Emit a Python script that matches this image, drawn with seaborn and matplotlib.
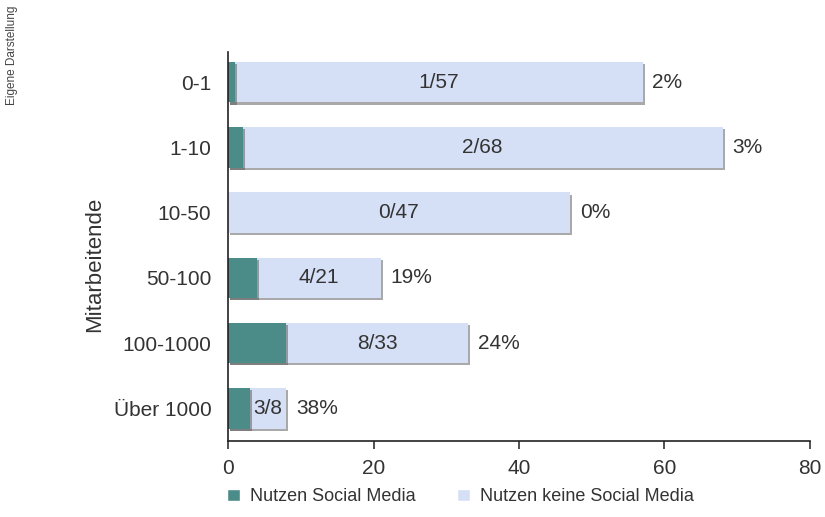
# Social media usage by company size - stacked horizontal bars

import numpy as np
import pandas as pd
import matplotlib.pyplot as plt
import matplotlib.patheffects as pe
from matplotlib.patches import Patch
import seaborn as sns

# Data
groups = ["0-1", "1-10", "10-50", "50-100", "100-1000", "Über 1000"]
total = [57, 68, 47, 21, 33, 8]
users = [1, 2, 0, 4, 8, 3]
x_ticks = [0, 20, 40, 60, 80]

df = pd.DataFrame({"Mitarbeitende": groups, "total": total, "users": users})

# Style
sns.set_theme(style="white")
plt.rcParams.update({
    'font.family': ['Liberation Sans', 'DejaVu Sans'],
    'text.color': '#333333',
    'axes.labelcolor': '#333333',
    'xtick.color': '#333333',
    'ytick.color': '#333333',
})

c_teal = "#4c8c88"
c_light = "#d5dff5"
c_text = "#333333"

fig = plt.figure(figsize=(8.25, 5.17), dpi=100)
fig.patch.set_facecolor("white")
ax = fig.add_axes([0.2764, 0.147, 0.7054, 0.752])

shadow = [pe.SimplePatchShadow(offset=(1.5, -1.5), shadow_rgbFace="#555555", alpha=0.5), pe.Normal()]

sns.barplot(data=df, x="total", y="Mitarbeitende", color=c_light, width=0.62,
            saturation=1, ax=ax, linewidth=0)
sns.barplot(data=df, x="users", y="Mitarbeitende", color=c_teal, width=0.62,
            saturation=1, ax=ax, linewidth=0)
for p in ax.patches:
    p.set_path_effects(shadow)

# Labels inside and beside the bars
for i, (t, u) in enumerate(zip(total, users)):
    ax.text((t + u) / 2, i, f"{u}/{t}", ha="center", va="center", fontsize=15, color=c_text)
    ax.annotate(f"{round(100 * u / t)}%", (t, i), xytext=(7, 0), textcoords="offset points",
                ha="left", va="center", fontsize=15, color=c_text)

ax.set_xlim(0, 80)
ax.set_ylim(5.5, -0.46)
ax.set_xticks(x_ticks)
ax.tick_params(axis="x", direction="out", length=6, width=1.1, color="#222222",
               labelsize=15, pad=7, bottom=True)
ax.tick_params(axis="y", length=0, labelsize=15, pad=12)
ax.set_xlabel("")
ax.set_ylabel("Mitarbeitende", fontsize=16, color=c_text)
ax.yaxis.set_label_coords(-0.212, 0.455)

sns.despine(ax=ax)
for s in ["left", "bottom"]:
    ax.spines[s].set_color("#222222")
    ax.spines[s].set_linewidth(1.2)

# Legend
handles = [Patch(facecolor=c_teal, label="Nutzen Social Media"),
           Patch(facecolor=c_light, label="Nutzen keine Social Media")]
fig.legend(handles=handles, loc="center left", bbox_to_anchor=(0.267, 0.039), ncol=2,
           frameon=False, fontsize=13, handlelength=0.7, handleheight=0.7,
           handletextpad=0.55, columnspacing=2.3, borderaxespad=0)

# Source note
fig.text(0.014, 0.99, "Eigene Darstellung", rotation=90, ha="center", va="top",
         fontsize=8.5, color="#444444")

fig.savefig("out.png", dpi=100, facecolor="white")
